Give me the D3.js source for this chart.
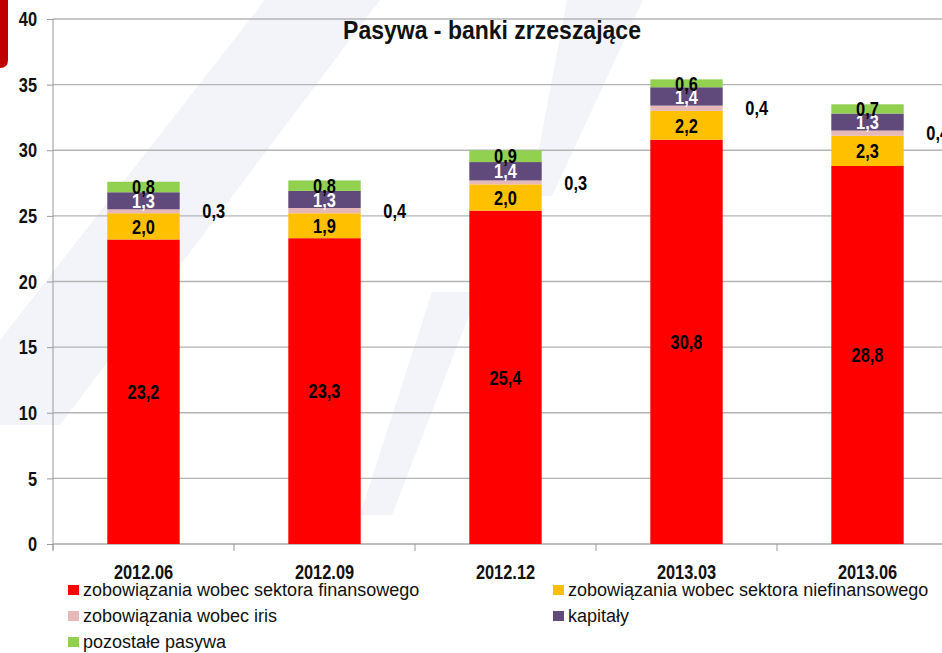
<!DOCTYPE html>
<html>
<head>
<meta charset="utf-8">
<script src="https://cdn.jsdelivr.net/npm/d3@7"></script>
<style>
  html, body { margin: 0; padding: 0; background: #fff; overflow: hidden; }
  svg { display: block; }
  .narrow { font-family: "Liberation Sans", Arial, sans-serif; font-weight: bold; }
  .legend text { font-family: "Liberation Sans", Arial, sans-serif; font-size: 18px; fill: #111; }
</style>
</head>
<body>
<svg width="942" height="653"></svg>
<script>
// data
var categories = ["2012.06", "2012.09", "2012.12", "2013.03", "2013.06"];
var finansowy = [23.2, 23.3, 25.4, 30.8, 28.8];
var niefinansowy = [2.0, 1.9, 2.0, 2.2, 2.3];
var iris = [0.3, 0.4, 0.3, 0.4, 0.4];
var kapitaly = [1.3, 1.3, 1.4, 1.4, 1.3];
var pozostale = [0.8, 0.8, 0.9, 0.6, 0.7];
var seriesNames = [
    "zobowiązania wobec sektora finansowego",
    "zobowiązania wobec sektora niefinansowego",
    "zobowiązania wobec iris",
    "kapitały",
    "pozostałe pasywa"
];
var yTicks = [0, 5, 10, 15, 20, 25, 30, 35, 40];
var title = "Pasywa - banki zrzeszające";

var keys = ["fin", "niefin", "iris", "kap", "poz"];
var colors = ["#ff0000", "#ffc000", "#e6b9b8", "#604a7b", "#92d050"];
var labelColors = ["#000", "#000", "#000", "#fff", "#000"];

var rows = categories.map(function (c, i) {
    return {cat: c, fin: finansowy[i], niefin: niefinansowy[i], iris: iris[i], kap: kapitaly[i], poz: pozostale[i]};
});

var pl = d3.formatLocale({decimal: ",", thousands: " ", grouping: [3], currency: ["", " zł"]});
var fmt = pl.format(".1f");

// no narrow font installed, so squeeze the bold sans horizontally
var SQ = 0.82;
function narrowText(sel, fx, fy, size, sq) {
    return sel
        .attr("class", "narrow")
        .attr("font-size", size)
        .attr("transform", function (d, i) {
            return "translate(" + fx(d, i) + "," + fy(d, i) + ") scale(" + (sq || SQ) + ",1)";
        });
}

var svg = d3.select("svg");

// faint watermark in the background
var wm = svg.append("g").attr("fill", "#f2f4f9");
wm.append("polygon").attr("points", "265,0 380,0 60,425 0,425 0,340");
wm.append("polygon").attr("points", "567,0 643,0 552,196 530,196");
wm.append("polygon").attr("points", "432,292 478,292 392,515 360,515");

// red tab in the corner
svg.append("path")
    .attr("d", "M0,0 H8 V60 Q8,68 0,68 Z")
    .attr("fill", "#c00000");

var x = d3.scaleBand()
    .domain(categories)
    .range([53, 958])
    .paddingInner(0.6)
    .paddingOuter(0.3);

var y = d3.scaleLinear().domain([0, 40]).range([544, 19]);

// grid
svg.append("g")
    .selectAll("line").data(yTicks.slice(1)).enter().append("line")
    .attr("x1", 53).attr("x2", 942)
    .attr("y1", function (d) { return y(d); })
    .attr("y2", function (d) { return y(d); })
    .attr("stroke", "#b4b4b4")
    .attr("stroke-width", 1.3);

// y axis
var yAxis = svg.append("g")
    .attr("transform", "translate(53,0)")
    .call(d3.axisLeft(y).tickValues(yTicks).tickSize(6).tickFormat(""));
yAxis.select(".domain").attr("stroke", "#9a9a9a").attr("d", "M0,19V550");
yAxis.selectAll(".tick line").attr("stroke", "#9a9a9a");

narrowText(svg.append("g").selectAll("text").data(yTicks).enter().append("text"),
        function () { return 37; },
        function (d) { return y(d); }, 20)
    .attr("text-anchor", "end")
    .attr("dy", "0.36em")
    .attr("fill", "#111")
    .text(function (d) { return d; });

// x axis
var xAxis = svg.append("g")
    .attr("transform", "translate(0,544)");
xAxis.append("line")
    .attr("x1", 53).attr("x2", 942)
    .attr("stroke", "#a8a8a8").attr("stroke-width", 1.5);
var bounds = categories.map(function (c) { return x(c) - x.step() * x.paddingOuter(); });
bounds.push(958);
xAxis.selectAll("line.tk").data(bounds).enter().append("line")
    .attr("class", "tk")
    .attr("x1", function (d) { return d; })
    .attr("x2", function (d) { return d; })
    .attr("y1", 0).attr("y2", 7)
    .attr("stroke", "#9a9a9a");
narrowText(xAxis.selectAll("text").data(categories).enter().append("text"),
        function (d) { return x(d) + x.bandwidth() / 2; },
        function () { return 35; }, 20)
    .attr("text-anchor", "middle")
    .attr("fill", "#111")
    .text(function (d) { return d; });

// stacked bars
var stacked = d3.stack().keys(keys)(rows);

var layers = svg.append("g").selectAll("g").data(stacked).enter().append("g")
    .attr("fill", function (d, i) { return colors[i]; });

layers.selectAll("rect").data(function (d) { return d; }).enter().append("rect")
    .attr("x", function (d) { return x(d.data.cat); })
    .attr("width", x.bandwidth())
    .attr("y", function (d) { return y(d[1]); })
    .attr("height", function (d) { return y(d[0]) - y(d[1]); });

// labels
var labels = svg.append("g");
stacked.forEach(function (layer, li) {
    narrowText(labels.selectAll("text.l" + li).data(layer).enter().append("text"),
            function (d) {
                if (keys[li] === "iris") return x(d.data.cat) + x.bandwidth() + 34;
                return x(d.data.cat) + x.bandwidth() / 2;
            },
            function (d) { return y((d[0] + d[1]) / 2); }, 20)
        .classed("l" + li, true)
        .attr("dy", "0.36em")
        .attr("text-anchor", "middle")
        .attr("fill", labelColors[li])
        .text(function (d) { return fmt(d[1] - d[0]); });
});

// title
narrowText(svg.append("text").datum(title),
        function () { return 492; },
        function () { return 39; }, 25, 0.92)
    .attr("text-anchor", "middle")
    .attr("fill", "#111")
    .text(title);

// legend
var legendPos = [
    {x: 68, y: 590}, {x: 553, y: 590},
    {x: 68, y: 616}, {x: 553, y: 616},
    {x: 68, y: 642}
];
var legend = svg.append("g").attr("class", "legend")
    .selectAll("g").data(seriesNames).enter().append("g")
    .attr("transform", function (d, i) { return "translate(" + legendPos[i].x + "," + legendPos[i].y + ")"; });
legend.append("rect")
    .attr("x", 0).attr("y", -5)
    .attr("width", 11).attr("height", 10)
    .attr("fill", function (d, i) { return colors[i]; });
legend.append("text")
    .attr("x", 15)
    .attr("dy", "0.36em")
    .text(function (d) { return d; });
</script>
</body>
</html>
